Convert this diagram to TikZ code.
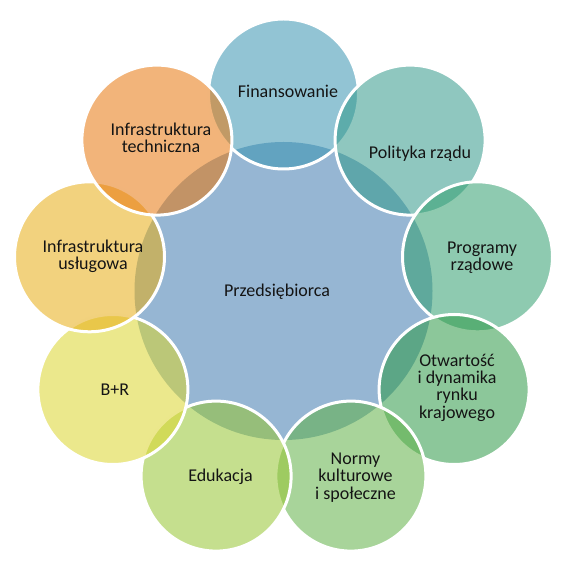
\documentclass[tikz,border=0pt]{standalone}
\usepackage{fontspec}
\setmainfont{Carlito}
\usepackage{tikz}

\definecolor{cmid}{RGB}{150,182,211}
\definecolor{cfin}{RGB}{57,148,177}
\definecolor{cpol}{RGB}{51,153,139}
\definecolor{cprog}{RGB}{50,159,111}
\definecolor{cotw}{RGB}{46,153,71}
\definecolor{cnorm}{RGB}{97,177,71}
\definecolor{cedu}{RGB}{150,197,50}
\definecolor{cbr}{RGB}{219,213,46}
\definecolor{cusl}{RGB}{231,173,20}
\definecolor{ctech}{RGB}{231,119,13}
\definecolor{ctext}{RGB}{20,20,20}

\tikzset{
  bubble/.style={circle,minimum size=150pt,inner sep=0pt,draw=white,line width=3pt,fill opacity=0.55},
  label text/.style={align=center,text=ctext,inner sep=0pt,font=\fontsize{18}{17.2}\selectfont}
}

\begin{document}
\begin{tikzpicture}[x=1pt,y=1pt]
    \useasboundingbox (0,0) rectangle (568,570);

    \draw (283.5,279) node[circle,minimum size=298pt,inner sep=0pt,fill=cmid] (mid) {};

    \draw (283.5,476) node[bubble,fill=cfin] (fin) {};
    \draw (410.1,429.9) node[bubble,fill=cpol] (pol) {};
    \draw (477.5,313.2) node[bubble,fill=cprog] (prog) {};
    \draw (454.1,180.5) node[bubble,fill=cotw] (otw) {};
    \draw (350.9,93.9) node[bubble,fill=cnorm] (norm) {};
    \draw (216.1,93.9) node[bubble,fill=cedu] (edu) {};
    \draw (112.9,180.5) node[bubble,fill=cbr] (br) {};
    \draw (89.5,313.2) node[bubble,fill=cusl] (usl) {};
    \draw (156.9,429.9) node[bubble,fill=ctech] (tech) {};

    \draw (277,278.5) node[label text] (tmid) {Przedsiębiorca};

    \draw (288,479) node[label text] (tfin) {Finansowanie};
    \draw (420,416.5) node[label text] (tpol) {Polityka rządu};
    \draw (482,312.4) node[label text] (tprog) {Programy\\rządowe};
    \draw (457,182.2) node[label text] (totw) {Otwartość\\i dynamika\\rynku\\krajowego};
    \draw (355.5,92.5) node[label text] (tnorm) {Normy\\kulturowe\\i społeczne};
    \draw (220.5,92.8) node[label text] (tedu) {Edukacja};
    \draw (114.8,180.5) node[label text] (tbr) {B+R};
    \draw (93,314) node[label text] (tusl) {Infrastruktura\\usługowa};
    \draw (161,431.8) node[label text] (ttech) {Infrastruktura\\techniczna};
\end{tikzpicture}
\end{document}
